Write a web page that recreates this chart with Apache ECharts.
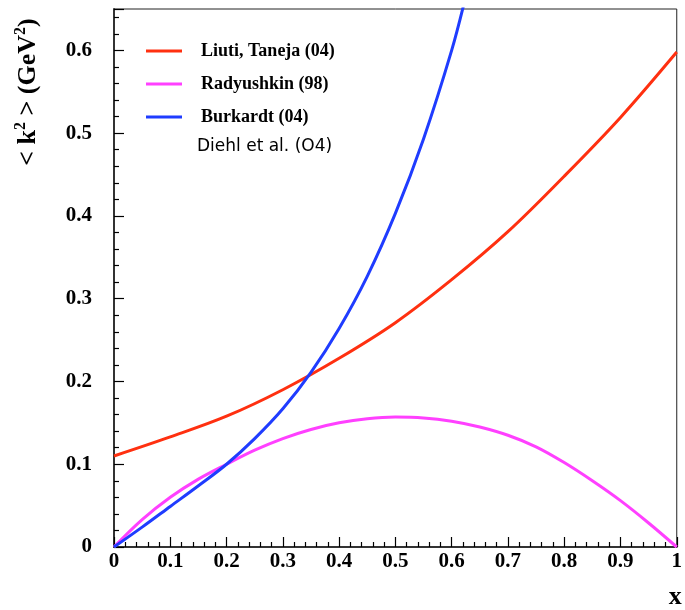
<!DOCTYPE html>
<html>
<head>
<meta charset="utf-8">
<script src="https://cdn.jsdelivr.net/npm/echarts@6/dist/echarts.min.js"></script>
<style>
  html, body { margin: 0; padding: 0; background: #fff; }
  #chart { width: 685px; height: 610px; }
</style>
</head>
<body>
<div id="chart"></div>
<script>
// <k^2> versus x for three model calculations
const liutiX = [0, 0.1, 0.2, 0.3, 0.4, 0.5, 0.6, 0.7, 0.8, 0.9, 1.0];
const liutiY = [0.110, 0.133, 0.158, 0.190, 0.228, 0.271, 0.323, 0.381, 0.448, 0.519, 0.598];

const radyX = [0, 0.05, 0.1, 0.15, 0.2, 0.25, 0.3, 0.35, 0.4, 0.45, 0.5, 0.55, 0.6, 0.65, 0.7, 0.75, 0.8, 0.85, 0.9, 0.95, 1.0];
const radyY = [0, 0.033, 0.060, 0.082, 0.100, 0.117, 0.131, 0.142, 0.150, 0.155, 0.157, 0.156, 0.152, 0.145, 0.135, 0.121, 0.102, 0.080, 0.056, 0.029, 0];

const burkX = [0, 0.05, 0.1, 0.15, 0.2, 0.25, 0.3, 0.35, 0.4, 0.45, 0.5, 0.55, 0.6, 0.625];
const burkY = [0, 0.024, 0.049, 0.074, 0.100, 0.131, 0.167, 0.211, 0.264, 0.327, 0.403, 0.493, 0.600, 0.665];

const seriesNames = ['Liuti, Taneja (04)', 'Radyushkin (98)', 'Burkardt (04)'];
const seriesColors = ['#ff3010', '#ff40ff', '#1f3cff'];
const extraNote = 'Diehl et al. (O4)';

const xTicks = ['0', '0.1', '0.2', '0.3', '0.4', '0.5', '0.6', '0.7', '0.8', '0.9', '1'];

const pairs = (xs, ys) => xs.map((x, i) => [x, ys[i]]);

const serif = '"Liberation Serif", "DejaVu Serif", serif';

const chart = echarts.init(document.getElementById('chart'), null, { renderer: 'canvas' });

const tickStyle = { color: '#000', width: 1.2 };

const curve = (i, xs, ys) => ({
  name: seriesNames[i], type: 'line', data: pairs(xs, ys),
  smooth: 0.35, showSymbol: false, clip: true,
  lineStyle: { color: seriesColors[i], width: 3 }, itemStyle: { color: seriesColors[i] }
});

chart.setOption({
  animation: false,
  backgroundColor: '#fff',
  grid: {
    left: 114, right: 4, top: 9, bottom: 62,
    show: true, borderColor: '#222', borderWidth: 1, backgroundColor: 'transparent'
  },
  legend: {
    orient: 'vertical',
    left: 141, top: 37,
    itemWidth: 36, itemHeight: 3, itemGap: 15,
    icon: 'rect',
    textStyle: {
      fontFamily: serif, fontWeight: 'bold', fontSize: 18, color: '#000',
      lineHeight: 17, padding: [0, 0, 0, 14]
    },
    data: seriesNames
  },
  xAxis: {
    type: 'value', min: 0, max: 1, interval: 0.1,
    axisLine: { show: true, onZero: false, lineStyle: { color: '#333', width: 2 } },
    axisTick: { show: true, inside: true, length: 10, lineStyle: tickStyle },
    minorTick: { show: true, splitNumber: 5, length: 5, lineStyle: tickStyle },
    splitLine: { show: false },
    axisLabel: {
      fontFamily: serif, fontWeight: 'bold', fontSize: 21, color: '#000', margin: 4,
      formatter: v => xTicks[Math.round(v * 10)] ?? ''
    },
    name: 'x', nameLocation: 'end', nameGap: 5,
    nameTextStyle: {
      fontFamily: serif, fontWeight: 'bold', fontSize: 26, color: '#000',
      align: 'right', verticalAlign: 'top', padding: [37, 0, 0, 0]
    }
  },
  yAxis: {
    type: 'value', min: 0, max: 0.65, interval: 0.1,
    axisLine: { show: true, onZero: false, lineStyle: { color: '#333', width: 2 } },
    axisTick: { show: true, inside: true, length: 10, lineStyle: tickStyle },
    minorTick: { show: true, splitNumber: 5, length: 5, lineStyle: tickStyle },
    splitLine: { show: false },
    axisLabel: {
      fontFamily: serif, fontWeight: 'bold', fontSize: 21, color: '#000', margin: 22,
      showMaxLabel: false,
      formatter: v => (v > 0.61 ? '' : (v === 0 ? '0' : v.toFixed(1)))
    }
  },
  graphic: [
    {
      type: 'text',
      left: 197, top: 138,
      style: {
        text: extraNote,
        font: 'normal 17px "DejaVu Sans", sans-serif',
        fill: '#000'
      }
    },
    {
      type: 'text',
      x: 27, y: 92,
      rotation: Math.PI / 2,
      style: {
        text: '{b|< k}{s|2}{b| > (GeV}{s|2}{b|)}',
        align: 'center', verticalAlign: 'middle',
        rich: {
          b: { font: 'bold 26px ' + serif, fill: '#000', verticalAlign: 'bottom' },
          s: { font: 'bold 16px ' + serif, fill: '#000', verticalAlign: 'top', padding: [0, 0, 12, 0] }
        }
      }
    }
  ],
  series: [
    curve(0, liutiX, liutiY),
    curve(1, radyX, radyY),
    curve(2, burkX, burkY)
  ]
});
</script>
</body>
</html>
